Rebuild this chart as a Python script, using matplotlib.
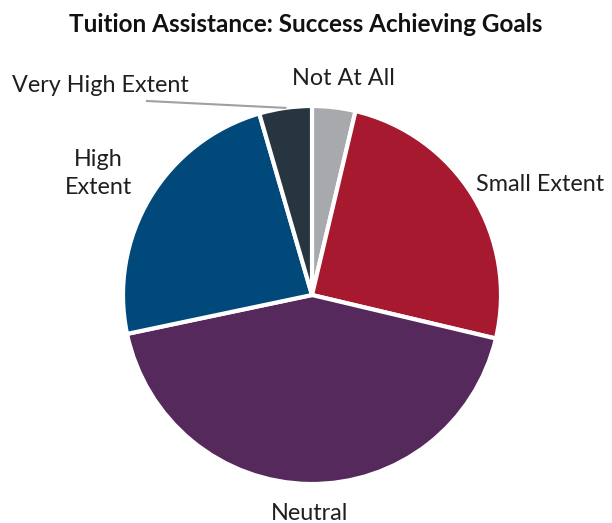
import numpy as np
import matplotlib.pyplot as plt

# share of respondents, clockwise from 12 o'clock
labels = ['Not At All', 'Small Extent', 'Neutral', 'High\nExtent', 'Very High Extent']
values = [3.7, 25.0, 43.0, 23.8, 4.5]
colors = ['#A7A9AC', '#A6192E', '#55295B', '#00497A', '#26353F']

W, H = 612, 523
fig = plt.figure(figsize=(W / 100, H / 100), dpi=100)
ax = fig.add_axes([0, 0, 1, 1])

cx, cy, R = 312, H - 295, 189
wedges, _ = ax.pie(values, colors=colors, startangle=90, counterclock=False,
                   center=(cx, cy), radius=R, frame=True,
                   wedgeprops=dict(edgecolor='white', linewidth=3))
ax.set_xlim(0, W)
ax.set_ylim(0, H)
ax.set_aspect('equal')
ax.axis('off')

font = dict(family=['Lato', 'DejaVu Sans'], fontsize=16.8, fontweight='normal', color='#1f1f1f')
# label distance (x radius) and nudge (degrees, clockwise)
dist = [1.16, 1.34, 1.155, 1.30, None]
nudge = [-1.7, -5.8, 0, 1.3, 0]
for w, lab, d, n in zip(wedges, labels, dist, nudge):
    mid = np.deg2rad((w.theta1 + w.theta2) / 2 + n)
    if d is None:
        # small slice: label off to the left with a leader line
        px, py = cx + R * np.cos(mid), cy + R * np.sin(mid)
        ax.plot([px, 147], [py, H - 101], color='#A0A0A0', lw=1.5)
        ax.text(100, H - 85, lab, ha='center', va='center', **font)
    else:
        ax.text(cx + d * R * np.cos(mid), cy + d * R * np.sin(mid), lab,
                ha='center', va='center', linespacing=1.45, **font)

fig.text(0.5, 1 - 24 / H, 'Tuition Assistance: Success Achieving Goals',
         ha='center', va='center', family=['Lato', 'DejaVu Sans'],
         fontsize=17.5, fontweight='bold', color='#111111')

fig.savefig('out.png', dpi=100)
